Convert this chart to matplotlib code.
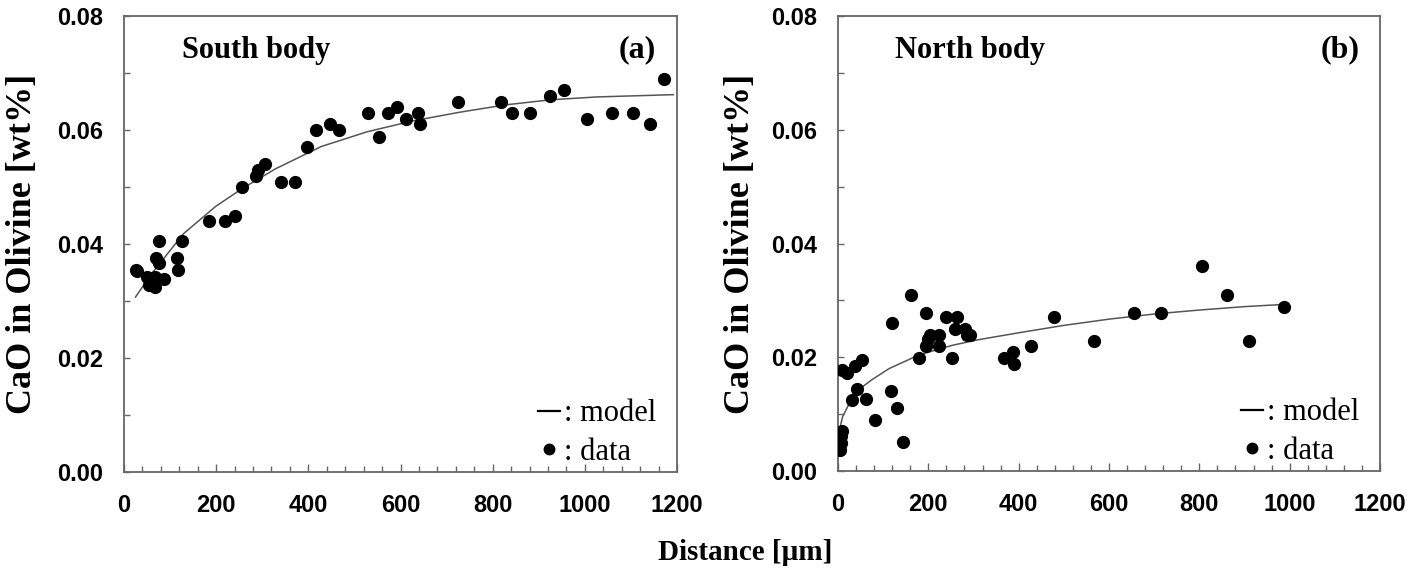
import matplotlib
matplotlib.use('Agg')
import matplotlib.pyplot as plt
from matplotlib.ticker import MultipleLocator
from matplotlib.lines import Line2D

# South body (a)
south_x = [25, 28, 50, 55, 68, 68, 70, 77, 77, 86, 115, 118, 126, 185, 220, 240, 256, 286, 291, 305,
           341, 372, 397, 416, 446, 466, 530, 553, 572, 592, 613, 637, 642, 724, 817, 843, 882, 924,
           954, 1005, 1060, 1105, 1142, 1172]
south_y = [0.0355, 0.0352, 0.0342, 0.0328, 0.0325, 0.0342, 0.0375, 0.0406, 0.0366, 0.0339, 0.0375,
           0.0354, 0.0406, 0.0440, 0.0440, 0.0449, 0.0500, 0.0520, 0.0530, 0.0540, 0.0509, 0.0509,
           0.0570, 0.0600, 0.0610, 0.0600, 0.0630, 0.0588, 0.0630, 0.0640, 0.0620, 0.0630, 0.0610,
           0.0650, 0.0650, 0.0630, 0.0630, 0.0660, 0.0670, 0.0620, 0.0630, 0.0630, 0.0610, 0.0690]
south_model_x = [25, 60, 129, 199, 256, 329, 428, 528, 627, 727, 827, 926, 1026, 1192]
south_model_y = [0.0307, 0.0348, 0.0418, 0.0466, 0.0497, 0.0532, 0.0571, 0.0597, 0.0616, 0.0631,
                 0.0644, 0.0653, 0.0658, 0.0662]

# North body (b)
north_x = [5, 6, 7, 8, 9, 20, 31, 38, 42, 53, 62, 82, 117, 120, 131, 144, 161, 179, 194, 194, 200,
           203, 223, 223, 240, 253, 259, 263, 281, 286, 292, 367, 387, 389, 428, 479, 566, 656, 715,
           807, 861, 910, 987]
north_y = [0.0037, 0.0049, 0.0061, 0.0071, 0.0178, 0.0172, 0.0124, 0.0184, 0.0145, 0.0195, 0.0127,
           0.0089, 0.0140, 0.0261, 0.0110, 0.0051, 0.0310, 0.0199, 0.0278, 0.0219, 0.0232, 0.0240,
           0.0240, 0.0219, 0.0270, 0.0199, 0.0249, 0.0270, 0.0249, 0.0240, 0.0240, 0.0199, 0.0209,
           0.0189, 0.0219, 0.0270, 0.0229, 0.0278, 0.0278, 0.0360, 0.0309, 0.0229, 0.0288]
north_model_x = [5, 10, 32, 54, 76, 113, 179, 253, 312, 400, 500, 600, 700, 800, 900, 990]
north_model_y = [0.0078, 0.0095, 0.0130, 0.0148, 0.0161, 0.0180, 0.0204, 0.0221, 0.0231, 0.0243,
                 0.0256, 0.0267, 0.0276, 0.0283, 0.0289, 0.0293]

serif = 'Liberation Serif'
sans = 'Liberation Sans'
spine_col = '#666666'

fig = plt.figure(figsize=(14.22, 5.70), dpi=100)
W, H = 1422, 570
ax1 = fig.add_axes([124 / W, 1 - 472 / H, 553 / W, 456 / H])
ax2 = fig.add_axes([838 / W, 1 - 471 / H, 542 / W, 455 / H])

panels = [(ax1, south_x, south_y, south_model_x, south_model_y, 'South body', '(a)'),
          (ax2, north_x, north_y, north_model_x, north_model_y, 'North body', '(b)')]

for ax, x, y, mx, my, name, tag in panels:
    ax.plot(mx, my, '-', color='#555555', lw=1.1, zorder=2)
    ax.plot(x, y, 'o', color='black', ms=8.5, zorder=3)
    ax.set_xlim(0, 1200)
    ax.set_ylim(0, 0.08)
    ax.xaxis.set_major_locator(MultipleLocator(200))
    ax.xaxis.set_minor_locator(MultipleLocator(40))
    ax.yaxis.set_major_locator(MultipleLocator(0.02))
    ax.yaxis.set_minor_locator(MultipleLocator(0.01))
    ax.yaxis.set_major_formatter(plt.FormatStrFormatter('%.2f'))
    ax.tick_params(which='both', direction='in', top=False, right=False, color=spine_col)
    ax.tick_params(which='major', length=6, width=1)
    ax.tick_params(which='minor', length=4, width=1)
    ax.tick_params(axis='x', which='major', pad=16)
    ax.tick_params(axis='y', which='major', pad=15)
    ax.tick_params(axis='y', which='major', length=4)
    for s in ax.spines.values():
        s.set_color(spine_col)
        s.set_linewidth(1.3)
    for lab in ax.get_xticklabels() + ax.get_yticklabels():
        lab.set_fontfamily(sans)
        lab.set_fontweight('bold')
        lab.set_fontsize(17)
    ax.set_ylabel('CaO in Olivine [wt%]', family=serif, fontweight='bold', fontsize=26)
    ax.text(0.105, 0.925, name, transform=ax.transAxes, family=serif, fontweight='bold',
            fontsize=22, ha='left', va='center')
    ax.text(0.962, 0.925, tag, transform=ax.transAxes, family=serif, fontweight='bold',
            fontsize=23, ha='right', va='center')
    handles = [Line2D([], [], color='black', lw=1.6),
               Line2D([], [], marker='o', ls='none', color='black', ms=7.5)]
    ax.legend(handles, [': model', ': data'], loc='lower right', frameon=False,
              prop={'family': serif, 'size': 22}, handlelength=0.7, handletextpad=0.15,
              labelspacing=0.3, borderaxespad=0.0, bbox_to_anchor=(0.985, -0.015))

ax1.yaxis.set_label_coords(-0.154, 0.5)
ax2.yaxis.set_label_coords(-0.149, 0.5)

fig.text(745 / W, 1 - 553 / H, 'Distance [µm]', family=serif, fontweight='bold', fontsize=21,
         ha='center', va='center')

fig.savefig('out.png', dpi=100)
